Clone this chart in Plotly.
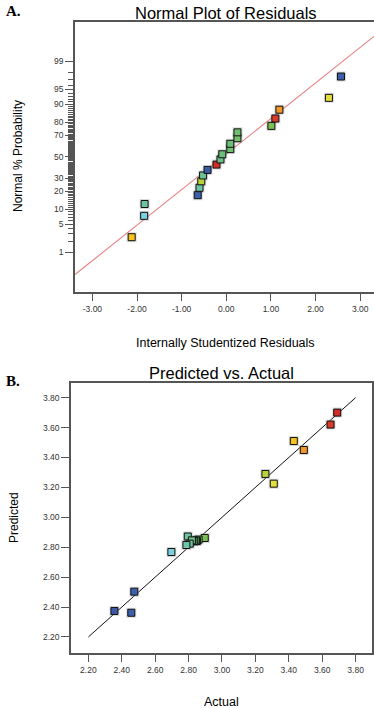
import plotly.graph_objects as go
from statistics import NormalDist

# ---------------- data ----------------
actual = [3.69, 3.65, 3.43, 3.49, 3.26, 3.31, 2.795, 2.697, 2.475, 2.356,
          2.457, 2.897, 2.86, 2.85, 2.845, 2.835, 2.83, 2.82, 2.807, 2.787]
predicted = [3.70, 3.62, 3.51, 3.45, 3.29, 3.225, 2.872, 2.768, 2.503, 2.374,
             2.362, 2.862, 2.851, 2.842, 2.845, 2.840, 2.842, 2.846, 2.824, 2.815]
stud_resid = [-0.22, 1.10, -2.12, 1.19, -0.56, 2.30, -1.83, -1.84, -0.64, -0.42,
              2.57, 1.01, 0.25, 0.25, 0.09, 0.09, -0.09, -0.13, -0.52, -0.60]
normal_pct = [2.5, 7.5, 12.5, 17.5, 22.5, 27.5, 32.5, 37.5, 42.5, 47.5,
              52.5, 57.5, 62.5, 67.5, 72.5, 77.5, 82.5, 87.5, 92.5, 97.5]

fit_resid = [-3.39, 3.31]
fit_pct = [0.205, 99.836]

diag_vals = [2.20, 3.80]

pct_major = [1, 5, 10, 20, 30, 50, 70, 80, 90, 95, 99]
resid_ticks = [-3, -2, -1, 0, 1, 2, 3]
act_ticks = [2.2, 2.4, 2.6, 2.8, 3.0, 3.2, 3.4, 3.6, 3.8]

# ---------------- helpers ----------------
nd = NormalDist()
def z(p):
    return nd.inv_cdf(p / 100.0)

W, H = 374, 708
def px(x):
    return x / W
def py(y):
    return 1 - y / H

colorscale = [
    [0.0, "#3a5aa6"], [0.111, "#3f62ad"], [0.259, "#7dd2e0"], [0.326, "#6cc4a6"],
    [0.356, "#6cbf7a"], [0.407, "#7fbf50"], [0.674, "#b8d23a"], [0.711, "#e2df3e"],
    [0.80, "#f5c21e"], [0.844, "#f2972a"], [0.963, "#d93a2a"], [1.0, "#d02828"],
]
cmin, cmax = 2.35, 3.70

order = sorted(range(len(stud_resid)), key=lambda i: stud_resid[i])
top_x = [stud_resid[i] for i in order]
top_c = [actual[i] for i in order]
top_y = [z(p) for p in normal_pct]

FONT = "Liberation Sans, Arial, sans-serif"
AXC = "#555555"

fig = go.Figure()

# ---- top: normal plot ----
fig.add_trace(go.Scatter(x=fit_resid, y=[z(p) for p in fit_pct], mode="lines",
                         line=dict(color="#e98080", width=1.1),
                         xaxis="x", yaxis="y", hoverinfo="skip", showlegend=False))
fig.add_trace(go.Scatter(x=top_x, y=top_y, mode="markers",
                         marker=dict(symbol="square", size=10, color="rgba(150,150,150,0.35)"),
                         xaxis="x", yaxis="y", hoverinfo="skip", showlegend=False))
fig.add_trace(go.Scatter(x=top_x, y=top_y, mode="markers",
                         marker=dict(symbol="square", size=7, color=top_c, colorscale=colorscale,
                                     cmin=cmin, cmax=cmax, line=dict(color="#111", width=1)),
                         xaxis="x", yaxis="y", showlegend=False))

# ---- bottom: predicted vs actual ----
fig.add_trace(go.Scatter(x=diag_vals, y=diag_vals, mode="lines",
                         line=dict(color="#111", width=1),
                         xaxis="x2", yaxis="y2", hoverinfo="skip", showlegend=False))
fig.add_trace(go.Scatter(x=actual, y=predicted, mode="markers",
                         marker=dict(symbol="square", size=10, color="rgba(150,150,150,0.35)"),
                         xaxis="x2", yaxis="y2", hoverinfo="skip", showlegend=False))
fig.add_trace(go.Scatter(x=actual, y=predicted, mode="markers",
                         marker=dict(symbol="square", size=7, color=actual, colorscale=colorscale,
                                     cmin=cmin, cmax=cmax, line=dict(color="#111", width=1)),
                         xaxis="x2", yaxis="y2", showlegend=False))

minor_pcts = [p for p in range(2, 99) if p not in pct_major]

tickfont = dict(family=FONT, size=8.5, color="#333")
common = dict(showline=True, linecolor=AXC, linewidth=1.5, ticks="outside", ticklen=8,
              tickwidth=1, tickcolor=AXC, showgrid=False, zeroline=False, tickfont=tickfont)

fig.update_layout(
    width=W, height=H, margin=dict(l=0, r=0, t=0, b=0),
    paper_bgcolor="white", plot_bgcolor="white", showlegend=False,
    xaxis=dict(domain=[px(75), 1.0], anchor="y", range=[-3.39, 3.31],
               tickvals=resid_ticks, ticktext=[f"{v:.2f}" for v in resid_ticks],
               mirror=True, **common),
    yaxis=dict(domain=[py(291.7), py(22)], anchor="x", range=[-3.29, 3.29],
               tickvals=[z(p) for p in pct_major], ticktext=[str(p) for p in pct_major],
               mirror=False,
               minor=dict(tickmode="array", tickvals=[z(p) for p in minor_pcts],
                          ticks="outside", ticklen=5, tickcolor=AXC, tickwidth=1),
               **common),
    xaxis2=dict(domain=[px(71), px(372.3)], anchor="y2", range=[2.096, 3.90],
                tickvals=act_ticks, ticktext=[f"{v:.2f}" for v in act_ticks],
                mirror=True, **common),
    yaxis2=dict(domain=[py(652.7), py(382.7)], anchor="x2", range=[2.095, 3.90],
                tickvals=act_ticks, ticktext=[f"{v:.2f}" for v in act_ticks],
                mirror=True, **common),
)

def ann(text, x, y, size, angle=0, family=FONT, bold=False):
    fig.add_annotation(text=f"<b>{text}</b>" if bold else text, x=px(x), y=py(y),
                       xref="paper", yref="paper", showarrow=False, textangle=angle,
                       xanchor="center", yanchor="middle",
                       font=dict(family=family, size=size, color="#000"))

ann("Normal Plot of Residuals", 226, 12.7, 16.5)
ann("Internally Studentized Residuals", 225, 343.3, 12.5)
ann("Normal % Probability", 18, 156, 12, angle=-90)
ann("A.", 13, 11, 15, family="Liberation Serif, Times New Roman, serif", bold=True)

ann("Predicted vs. Actual", 221, 372.7, 16.5)
ann("Actual", 221, 702, 12.5)
ann("Predicted", 14, 517, 12, angle=-90)
ann("B.", 13, 380.5, 15, family="Liberation Serif, Times New Roman, serif", bold=True)

fig.write_html("out.html")
